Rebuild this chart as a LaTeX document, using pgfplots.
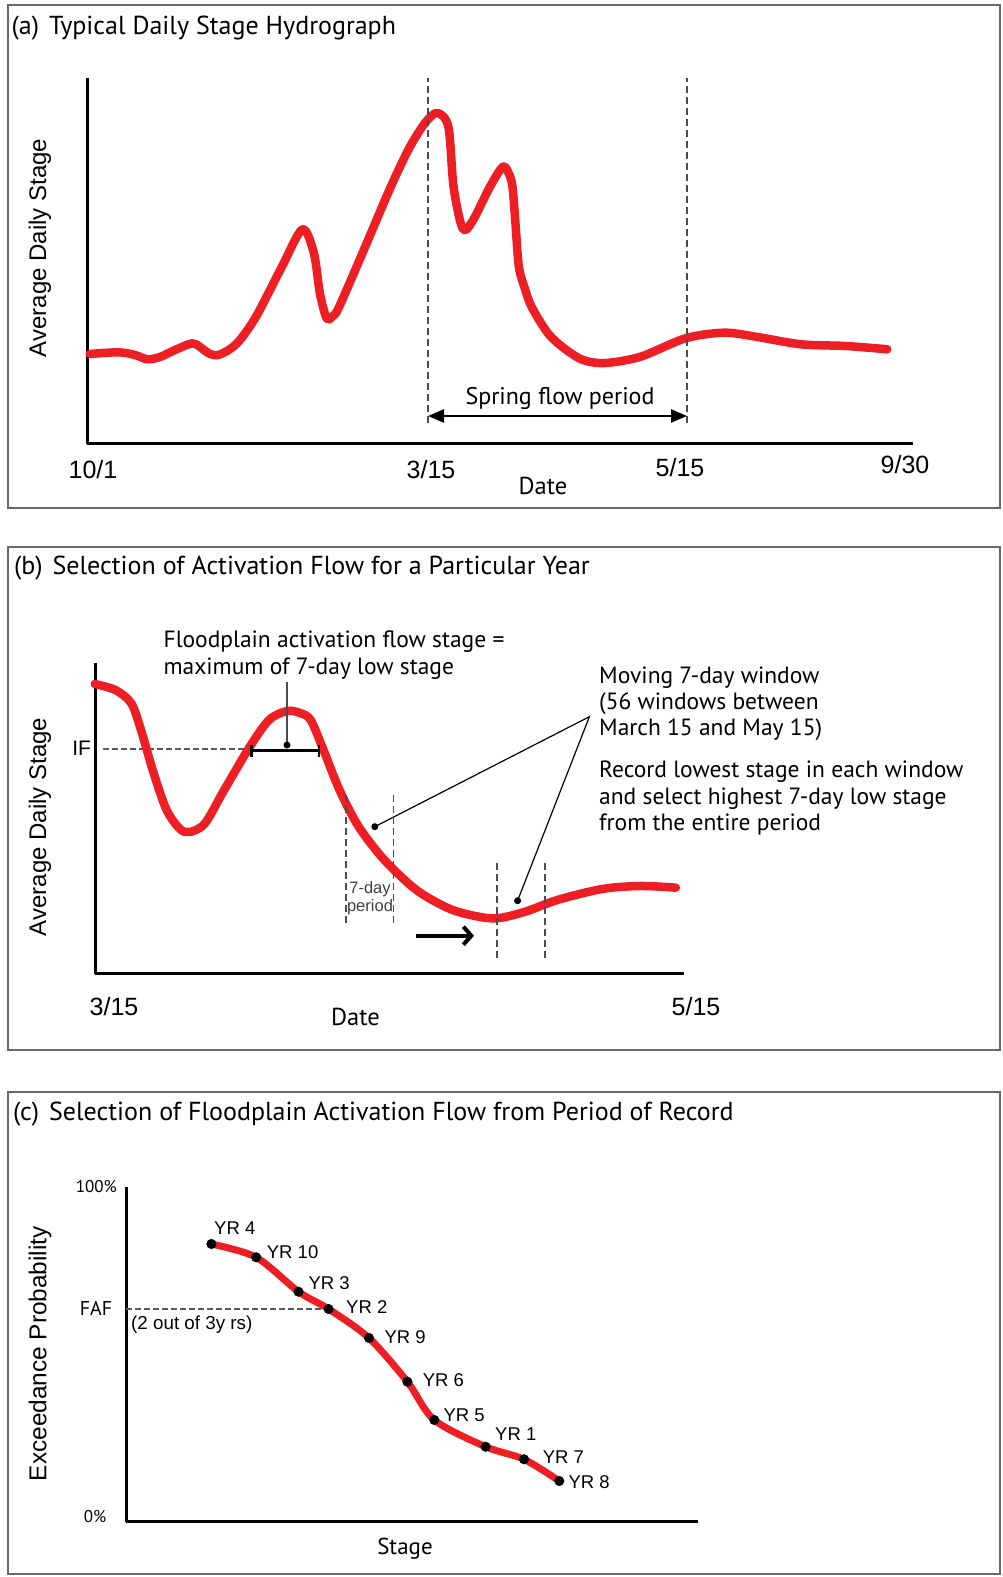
\documentclass[border=0pt]{standalone}
\usepackage{pgfplots}
\usepackage{pgfplotstable}
\pgfplotsset{compat=1.18}
\usepackage{fontspec}
\setmainfont{PT Sans}
\newfontfamily\arialf{Liberation Sans}
\usetikzlibrary{arrows.meta}
\definecolor{cred}{RGB}{237,30,36}
\definecolor{framec}{RGB}{105,105,105}
\newcommand\fs[1]{\fontsize{#1}{#1}\selectfont}

\pgfplotstableread{
x y
89.7 90
118.5 91.7
135 89
147.3 84.7
160 87
175 94
192.2 100.7
200 97
210 90
220 89.5
237 100.7
256 127.3
281.9 177.3
302.4 214.7
313.9 190.7
320 150
326.7 125.7
333 128
339.5 138
365.2 197.3
390.8 257.3
410 297.3
426 322.3
437.5 331
448.4 317
453.6 257
462.5 215.7
472 222
490 257.3
502.9 277.3
509 270
512.5 257
515.5 220
518.9 177
525 155
531.7 137
547.7 111
563.7 96
583 84
605.4 81
640.6 87.3
685.5 105.7
723.9 111.3
755.9 107.3
800.8 99.7
845.6 98
887.3 94.7
}\dataA

\pgfplotstableread{
x y
94.8 290
115.3 284
131.3 270.7
141 244
153.7 200.7
166.6 164
180 145
190 142
205 150.7
224.2 184
249.8 227.3
269 254
287 263
300 261
310.7 254
323.5 224
339.5 184
358.7 147.3
384.4 114
416.4 84
448.4 65.7
475 58
497.1 55.7
525.3 62.3
557.3 74
602.2 85
640.6 88
675.8 86.3
}\dataB

\pgfplotstableread{
x y
211.4 277.7
256.2 264.4
298.5 230
328.6 212.7
369 183.7
407.4 140
434.3 101.7
485.6 75
524 62.4
559.3 40.7
}\dataC

\pgfplotsset{sch/.style={scale only axis, anchor=south west,
  axis x line=bottom, axis y line=left,
  axis line style={-, line width=3pt, black},
  x axis line style={-}, y axis line style={-},
  xtick=\empty, ytick=\empty, clip=false}}
\tikzset{dsh/.style={black!70, line width=1.3pt, dash pattern=on 7pt off 4pt}}

\begin{document}
\begin{tikzpicture}[x=1pt,y=1pt]
\useasboundingbox (0,0) rectangle (1003,1577);

% ---------- (a)
\begin{axis}[sch, at={(87,1133)}, width=826pt, height=366pt,
  xmin=87, xmax=913, ymin=0, ymax=366]
\addplot[cred, line width=8.5pt, smooth, line join=round, line cap=round] table[x=x,y=y]{\dataA};
\draw[dsh] (axis cs:428,21) -- (axis cs:428,366);
\draw[dsh] (axis cs:687,21) -- (axis cs:687,366);
\draw[line width=2.5pt, {Triangle[length=16pt,width=13pt]}-{Triangle[length=16pt,width=13pt]}] (axis cs:428,28) -- (axis cs:687,28);
\end{axis}

% ---------- (b)
\begin{axis}[sch, at={(95,603)}, width=589pt, height=311.3pt,
  xmin=95, xmax=684, ymin=0, ymax=311.3]
\draw[black!65, line width=1.6pt, dash pattern=on 6pt off 3pt] (axis cs:102.5,224.7) -- (axis cs:250,224.7);
\addplot[cred, line width=8.5pt, smooth, line join=round, line cap=round] table[x=x,y=y]{\dataB};
\draw[line width=2.5pt, {Bar[width=12pt]}-{Bar[width=12pt]}] (axis cs:250,223.3) -- (axis cs:320,223.3);
\draw[black!70, line width=1.3pt] (axis cs:287,229) -- (axis cs:287,292.3);
\fill (axis cs:287,229) circle[radius=3.5pt];
\draw[black, line width=1.2pt] (axis cs:374.8,147.3) -- (axis cs:589.4,257.3) -- (axis cs:517.6,73.3);
\fill (axis cs:374.8,147.3) circle[radius=3.5pt];
\fill (axis cs:517.6,73.3) circle[radius=3.5pt];
\draw[dsh] (axis cs:346,179) -- (axis cs:346,49);
\draw[dsh] (axis cs:393.3,179) -- (axis cs:393.3,49);
\draw[dsh] (axis cs:497,110.7) -- (axis cs:497,14);
\draw[dsh] (axis cs:545,110.7) -- (axis cs:545,14);
\draw[line width=4pt, -{Straight Barb[length=8pt,width=18pt]}] (axis cs:416.4,38.3) -- (axis cs:474,38.3);
\end{axis}

% ---------- (c)
\begin{axis}[sch, at={(126,55.3)}, width=572pt, height=335pt,
  xmin=126, xmax=698, ymin=0, ymax=335]
\draw[black!65, line width=1.6pt, dash pattern=on 6pt off 3pt] (axis cs:126,212.4) -- (axis cs:326.7,212.4);
\addplot[cred, line width=7pt, smooth, line cap=round] table[x=x,y=y]{\dataC};
\addplot[only marks, mark=*, mark size=4.8pt, black] table[x=x,y=y]{\dataC};
\end{axis}

\begin{scope}[yshift=1577pt]
\draw[framec, line width=2pt] (7.5,-5) rectangle (1000,-508);
\draw[framec, line width=2pt] (7.5,-547.5) rectangle (1000,-1050);
\draw[framec, line width=2pt] (7.5,-1092) rectangle (1000,-1574);

% ---------- texts (a)
\node[anchor=west, inner sep=0] at (11.5,-28) {\fs{26}(a)\hspace{10pt}Typical Daily Stage Hydrograph};
\node[rotate=90, inner sep=0] at (40,-248) {\arialf\fs{24}Average Daily Stage};
\node[inner sep=0] at (93,-470) {\arialf\fs{25}10/1};
\node[inner sep=0] at (431,-470) {\arialf\fs{25}3/15};
\node[inner sep=0] at (680,-468) {\arialf\fs{25}5/15};
\node[inner sep=0] at (905,-465) {\arialf\fs{25}9/30};
\node[inner sep=0] at (543,-486) {\fs{24.5}Date};
\node[inner sep=0] at (560,-399) {\fs{24}Spring flow period};

% ---------- texts (b)
\node[anchor=west, inner sep=0] at (14,-568) {\fs{26}(b)\hspace{10pt}Selection of Activation Flow for a Particular Year};
\node[rotate=90, inner sep=0] at (40,-827) {\arialf\fs{24}Average Daily Stage};
\node[inner sep=0] at (114,-1006.7) {\arialf\fs{25}3/15};
\node[inner sep=0] at (696,-1006.7) {\arialf\fs{25}5/15};
\node[inner sep=0] at (355.5,-1016.7) {\fs{24.5}Date};
\node[inner sep=0] at (81.7,-748.3) {\arialf\fs{21}IF};
\node[anchor=west, inner sep=0] at (163.4,-641.7) {\fs{23.5}Floodplain activation flow stage =};
\node[anchor=west, inner sep=0] at (163.4,-668.3) {\fs{23.5}maximum of 7-day low stage};
\node[anchor=west, inner sep=0] at (599,-677.7) {\fs{23.5}Moving 7-day window};
\node[anchor=west, inner sep=0] at (599,-704) {\fs{23.5}(56 windows between};
\node[anchor=west, inner sep=0] at (599,-730) {\fs{23.5}March 15 and May 15)};
\node[anchor=west, inner sep=0] at (599,-771.7) {\fs{23.5}Record lowest stage in each window};
\node[anchor=west, inner sep=0] at (599,-798.3) {\fs{23.5}and select highest 7-day low stage};
\node[anchor=west, inner sep=0] at (599,-825) {\fs{23.5}from the entire period};
\node[inner sep=0, text=black!75] at (370,-889) {\arialf\fs{16.5}7-day};
\node[inner sep=0, text=black!75] at (370,-907.5) {\arialf\fs{16.5}period};

% ---------- texts (c)
\node[anchor=west, inner sep=0] at (12.8,-1114.3) {\fs{26}(c)\hspace{10pt}Selection of Floodplain Activation Flow from Period of Record};
\node[rotate=90, inner sep=0] at (40,-1353.7) {\arialf\fs{24.4}Exceedance Probability};
\node[anchor=east, inner sep=0] at (117,-1186.7) {\fs{17}100\%};
\node[inner sep=0] at (95,-1516.7) {\fs{17}0\%};
\node[inner sep=0] at (96,-1308.3) {\fs{20}FAF};
\node[anchor=west, inner sep=0] at (131,-1325) {\arialf\fs{18.8}(2 out of 3y rs)};
\node[inner sep=0] at (405,-1548.3) {\fs{23}Stage};
\node[anchor=west, inner sep=0] at (214,-1228) {\arialf\fs{18.5}YR 4};
\node[anchor=west, inner sep=0] at (266.7,-1252.3) {\arialf\fs{18.5}YR 10};
\node[anchor=west, inner sep=0] at (308.3,-1283.3) {\arialf\fs{18.5}YR 3};
\node[anchor=west, inner sep=0] at (346,-1306.7) {\arialf\fs{18.5}YR 2};
\node[anchor=west, inner sep=0] at (384.4,-1336.7) {\arialf\fs{18.5}YR 9};
\node[anchor=west, inner sep=0] at (422.7,-1380) {\arialf\fs{18.5}YR 6};
\node[anchor=west, inner sep=0] at (443.3,-1415) {\arialf\fs{18.5}YR 5};
\node[anchor=west, inner sep=0] at (495,-1434) {\arialf\fs{18.5}YR 1};
\node[anchor=west, inner sep=0] at (542.7,-1456.7) {\arialf\fs{18.5}YR 7};
\node[anchor=west, inner sep=0] at (568.3,-1481.7) {\arialf\fs{18.5}YR 8};
\end{scope}
\end{tikzpicture}
\end{document}
